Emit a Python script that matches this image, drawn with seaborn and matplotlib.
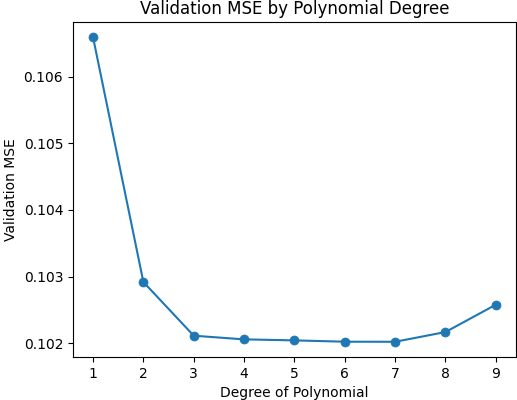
import matplotlib
matplotlib.use("Agg")
import matplotlib.pyplot as plt
import seaborn as sns
import pandas as pd

degrees = [1, 2, 3, 4, 5, 6, 7, 8, 9]
val_mse = [0.10659, 0.10292, 0.102115, 0.10206, 0.102045, 0.102025, 0.102024, 0.10217, 0.10258]

df = pd.DataFrame({"degree": degrees, "mse": val_mse})

fig = plt.figure(figsize=(5.17, 4.0), dpi=100)
ax = fig.add_axes([0.141, 0.1075, 0.857, 0.8375])
sns.lineplot(data=df, x="degree", y="mse", marker="o", color="#1f77b4",
             markersize=6.5, markeredgecolor="#1f77b4", markeredgewidth=0.5, ax=ax)
ax.set_title("Validation MSE by Polynomial Degree", fontsize=12)
ax.set_xlabel("Degree of Polynomial")
ax.set_ylabel("Validation MSE")
ax.set_xticks(degrees)
ax.set_yticks([0.102, 0.103, 0.104, 0.105, 0.106])
fig.savefig("out.png", dpi=100)
